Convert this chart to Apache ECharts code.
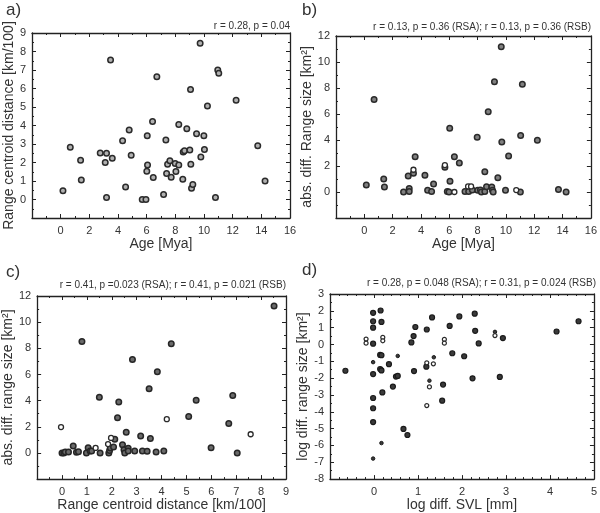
<!DOCTYPE html>
<html><head><meta charset="utf-8">
<script src="https://cdn.jsdelivr.net/npm/echarts@6/dist/echarts.min.js"></script>
<style>html,body{margin:0;padding:0;background:#fff}#c{width:600px;height:513px}</style>
</head><body><div id="c"></div>
<script>
// Panel a: Age [Mya] vs Range centroid distance [km/100]
const aPoints = [[0.16,0.47],[0.67,2.82],[1.39,2.12],[1.44,1.06],[2.76,2.52],[3.11,2.0],[3.2,2.5],[3.2,0.11],[3.48,7.54],[3.6,2.23],[4.32,3.17],[4.53,0.67],[4.78,3.76],[4.92,2.39],[5.69,0],[5.95,0],[6.04,3.45],[6.01,1.53],[6.06,1.87],[6.41,4.21],[6.46,1.19],[6.71,6.64],[7.18,0.27],[7.34,3.22],[7.39,1.4],[7.46,1.91],[7.62,2.1],[7.71,1.2],[7.99,1.94],[8.04,1.51],[8.24,1.87],[8.24,4.06],[8.52,1.1],[8.55,2.57],[8.64,2.64],[8.8,3.83],[9.01,2.68],[9.06,5.95],[9.08,1.91],[9.13,0.61],[9.22,0.81],[9.48,3.56],[9.73,8.44],[9.78,2.3],[9.99,3.44],[10.03,2.7],[10.24,5.05],[10.8,0.11],[10.96,7.0],[11.03,6.82],[12.24,5.36],[13.75,2.91],[14.26,1.0]];
// Panel b: Age [Mya] vs abs. diff. Range size
const bFilled = [[0.14,0.54],[0.69,7.11],[1.37,1.0],[1.42,0.38],[2.77,0],[3.1,1.23],[3.17,0.26],[3.17,0.03],[3.47,1.45],[3.59,2.71],[4.28,1.28],[4.47,0.13],[4.75,0.03],[4.89,0.61],[5.69,1.9],[5.86,0.03],[5.98,0],[6.03,4.91],[6.05,0.82],[6.36,2.71],[6.71,2.23],[7.11,0.03],[7.37,0.03],[7.63,0.15],[7.97,4.22],[8.01,0.13],[8.2,0.15],[8.27,0],[8.51,0.03],[8.51,1.56],[8.63,0.41],[8.75,6.17],[9.0,0.38],[9.05,0.13],[9.1,0],[9.19,8.49],[9.43,1.1],[9.67,11.18],[9.71,3.84],[9.97,0.13],[10.19,2.76],[11.04,4.35],[11.16,8.29],[12.22,3.99],[13.71,0.2],[14.25,0],[11.02,0]];
const bOpen = [[3.47,1.71],[5.69,2.07],[6.36,0],[7.33,0.43],[7.54,0.43],[10.73,0.15]];
// Panel c: Range centroid distance vs abs. diff. range size
const cFilled = [[0,0],[0.07,0],[0.13,0.08],[0.26,0.08],[0.45,0.53],[0.58,0.05],[0.66,0.1],[0.8,8.53],[0.98,0],[1.05,0.4],[1.13,0.15],[1.19,0.15],[1.5,4.25],[1.53,0],[1.88,0],[1.91,0.18],[1.94,0.38],[2.07,0.45],[2.12,1.05],[2.23,2.7],[2.28,3.9],[2.43,0.63],[2.49,0.25],[2.52,0],[2.58,1.58],[2.66,0.35],[2.66,0.15],[2.83,7.15],[2.92,0.15],[3.16,1.3],[3.23,0.15],[3.42,0.13],[3.5,4.9],[3.55,1.1],[3.78,0.08],[3.83,6.2],[4.09,0.15],[4.39,8.35],[5.09,2.78],[5.39,4.03],[5.99,0.4],[6.7,2.25],[6.86,4.4],[7.04,0],[8.52,11.23]];
const cOpen = [[-0.04,1.98],[1.35,0.38],[1.85,0.68],[1.97,1.15],[4.21,2.58],[7.58,1.43]];
// Panel d: log diff. SVL vs log diff. range size
const dFilled = [[-0.65,-1.56],[-0.02,1.88],[-0.02,1.38],[-0.02,1.0],[-0.02,0.05],[-0.02,-1.76],[-0.02,-3.18],[-0.02,-3.79],[-0.02,-4.61],[0.15,2.02],[0.17,1.34],[0.14,-0.62],[0.17,-0.64],[0.14,-1.46],[0.17,-1.54],[0.19,-2.85],[0.34,-1.17],[0.5,-1.91],[0.54,-1.87],[0.43,-2.5],[0.67,-5.02],[0.76,-5.38],[0.85,0.12],[0.9,0.5],[0.94,1.04],[0.91,-1.58],[1.2,0.89],[1.19,-1.32],[1.32,1.61],[1.55,-3.34],[1.57,-2.38],[1.72,1.1],[1.78,-0.52],[1.94,1.67],[2.05,-0.7],[2.24,-2.01],[2.29,1.83],[2.3,0.81],[2.38,0.06],[2.86,-1.93],[2.93,0.38],[4.15,0.77],[4.65,1.38]];
const dSmall = [[-0.02,-1.05],[-0.02,-6.78],[0.17,-5.86],[0.54,-0.68],[1.26,-2.15],[1.36,-0.76],[2.75,0.75]];
const dOpen = [[-0.18,0.32],[-0.18,0.08],[0.2,0.42],[0.2,0.22],[1.2,-1.09],[1.2,-3.63],[1.26,-2.52],[1.35,-1.15],[1.6,0.3],[1.6,0.08],[2.75,0.53]];

const panelLabels = ['a)','b)','c)','d)'];
const statTexts = ['r = 0.28, p = 0.04','r = 0.13, p = 0.36 (RSA); r = 0.13, p = 0.36 (RSB)','r = 0.41, p =0.023 (RSA); r = 0.41, p = 0.021 (RSB)','r = 0.28, p = 0.048 (RSA); r = 0.31, p = 0.024 (RSB)'];
const xNames = ['Age [Mya]','Age [Mya]','Range centroid distance [km/100]','log diff. SVL [mm]'];
const yNames = ['Range centroid distance [km/100]','abs. diff. Range size [km²]','abs. diff. range size [km²]','log diff. range size [km²]'];

const FONT = 'Liberation Sans, Arial, sans-serif';
const TXT = '#333';
const grids = [
  {left:32, top:33, width:258, height:185},
  {left:336, top:36, width:255, height:182},
  {left:28, top:296, width:258, height:186},
  {left:330, top:294, width:266, height:189}
];
const xCfg = [
  {min:-2,max:16,interval:2,minor:2,hideMin:true},
  {min:-2,max:16,interval:2,minor:2,hideMin:true},
  {min:-1,max:9,interval:1,minor:2,hideMin:true},
  {min:-1,max:5,interval:1,minor:5,hideMin:true}
];
const yCfg = [
  {min:-1,max:9,interval:1,minor:2,hideMin:true},
  {min:-2,max:12,interval:2,minor:2,hideMin:true},
  {min:-2,max:12,interval:2,minor:2,hideMin:true},
  {min:-8,max:3,interval:1,minor:2,hideMin:false}
];

const xAxes=[], yAxes=[];
for (let i=0;i<4;i++){
  const xc=xCfg[i], yc=yCfg[i];
  const common = {
    axisLine:{show:true,onZero:false,lineStyle:{color:'#222',width:1.3}},
    axisTick:{show:true,inside:true,length:4,lineStyle:{color:'#222',width:1}},
    minorTick:{show:true,splitNumber:0,length:2,lineStyle:{color:'#222',width:1}},
    splitLine:{show:false}
  };
  xAxes.push(Object.assign({}, common, {type:'value',gridIndex:i,position:'bottom',min:xc.min,max:xc.max,interval:xc.interval,
    minorTick:Object.assign({},common.minorTick,{splitNumber:xc.minor}),
    axisLabel:{color:TXT,fontSize:11,fontFamily:FONT,margin:7,showMinLabel:!xc.hideMin},
    name:xNames[i],nameLocation:'middle',nameGap:18,nameTextStyle:{color:TXT,fontSize:14,fontFamily:FONT}}));
  xAxes.push(Object.assign({}, common, {type:'value',gridIndex:i,position:'top',min:xc.min,max:xc.max,interval:xc.interval,
    minorTick:Object.assign({},common.minorTick,{splitNumber:xc.minor}),axisLabel:{show:false}}));
  yAxes.push(Object.assign({}, common, {type:'value',gridIndex:i,position:'left',min:yc.min,max:yc.max,interval:yc.interval,
    minorTick:Object.assign({},common.minorTick,{splitNumber:yc.minor}),
    axisLabel:{color:TXT,fontSize:11,fontFamily:FONT,margin:6,showMinLabel:!yc.hideMin},
    name:yNames[i],nameLocation:'middle',nameGap:i===3?18:16,nameRotate:90,nameTextStyle:{color:TXT,fontSize:14,fontFamily:FONT}}));
  yAxes.push(Object.assign({}, common, {type:'value',gridIndex:i,position:'right',min:yc.min,max:yc.max,interval:yc.interval,
    minorTick:Object.assign({},common.minorTick,{splitNumber:yc.minor}),axisLabel:{show:false}}));
}

function sc(i,data,fill,stroke,size,z,bw){
  return {type:'scatter',xAxisIndex:2*i,yAxisIndex:2*i,data:data,symbol:'circle',symbolSize:size,z:z||2,
    itemStyle:{color:fill,borderColor:stroke,borderWidth:bw||1.4,opacity:1},silent:true,animation:false};
}
const series=[
  sc(0,aPoints,'#b0b0b0','#2a2a2a',5.5,2,1.5),
  sc(1,bFilled,'#808080','#2a2a2a',5.5,2,1.5),
  sc(1,bOpen,'#ffffff','#2a2a2a',5,3,1.3),
  sc(2,cFilled,'#6a6a6a','#262626',5.5,2,1.5),
  sc(2,cOpen,'#ffffff','#2a2a2a',5,3,1.3),
  sc(3,dFilled,'#3a3a3a','#1a1a1a',5,2,1.2),
  sc(3,dSmall,'#3a3a3a','#1a1a1a',3.5,2,1),
  sc(3,dOpen,'#ffffff','#2a2a2a',4,3,1.2)
];

const graphics=[];
const labelPos=[[6,2],[302,2],[6,264],[302,262]];
const statPos=[[290,21],[591,22],[286,280],[596,278]];
for(let i=0;i<4;i++){
  graphics.push({type:'text',x:labelPos[i][0],y:labelPos[i][1],style:{text:panelLabels[i],font:'17px '+FONT,fill:TXT}});
  graphics.push({type:'text',x:statPos[i][0],y:statPos[i][1],style:{text:statTexts[i],font:'10px '+FONT,fill:TXT,align:'right'}});
}

const chart=echarts.init(document.getElementById('c'),null,{renderer:'canvas'});
chart.setOption({animation:false,backgroundColor:'#fff',grid:grids,xAxis:xAxes,yAxis:yAxes,series:series,graphic:graphics});
</script></body></html>
